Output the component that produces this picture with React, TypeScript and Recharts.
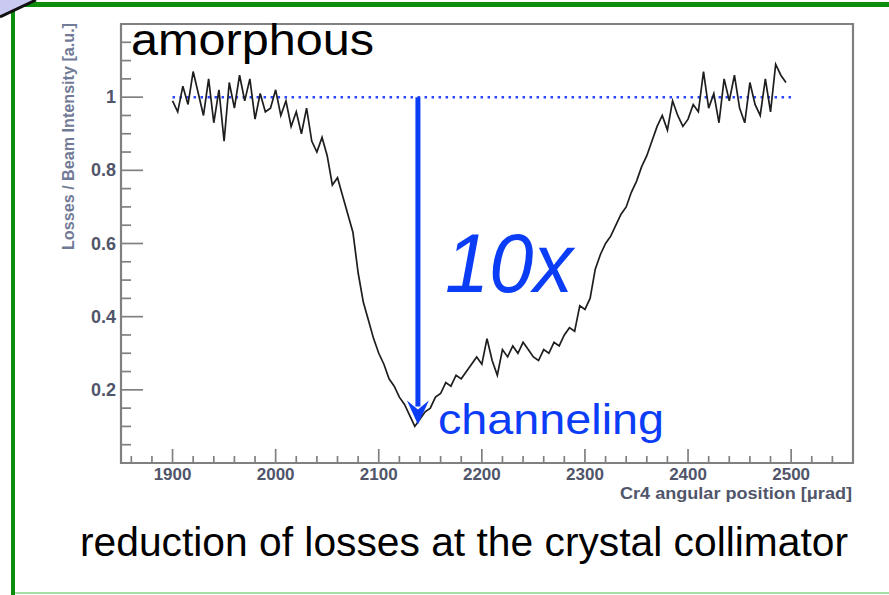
import { LineChart, Line, XAxis, YAxis, ReferenceLine, ReferenceArea } from 'recharts';

// Crystal scan: losses normalised to beam intensity vs. Cr4 angular position
const ANGLE_START = 1900; // µrad
const ANGLE_STEP = 5; // µrad between samples

const lossValues = [
    0.99, 0.96, 1.03, 0.98, 1.07, 1.01, 0.95, 1.05, 0.93, 1.02,
    0.88, 1.04, 0.97, 1.06, 0.99, 1.05, 0.94, 1.01, 0.96, 0.97,
    1.02, 0.95, 0.99, 0.92, 0.96, 0.9, 0.97, 0.88, 0.85, 0.89,
    0.84, 0.76, 0.78, 0.73, 0.68, 0.63, 0.52, 0.44, 0.39, 0.34,
    0.3, 0.27, 0.23, 0.21, 0.18, 0.16, 0.13, 0.1, 0.12, 0.14,
    0.15, 0.18, 0.19, 0.22, 0.21, 0.24, 0.23, 0.25, 0.27, 0.29,
    0.27, 0.34, 0.28, 0.24, 0.31, 0.29, 0.32, 0.3, 0.33, 0.31,
    0.29, 0.28, 0.31, 0.3, 0.33, 0.32, 0.35, 0.37, 0.36, 0.43,
    0.42, 0.45, 0.53, 0.57, 0.6, 0.62, 0.65, 0.68, 0.7, 0.74,
    0.77, 0.81, 0.84, 0.88, 0.92, 0.95, 0.91, 0.99, 0.95, 0.92,
    0.94, 0.98, 0.96, 1.07, 0.97, 1.01, 0.93, 1.05, 0.99, 1.06,
    0.97, 0.93, 1.04, 0.98, 0.95, 1.05, 0.96, 1.09, 1.06, 1.04,
];

const xLabelTicks = [1900, 2000, 2100, 2200, 2300, 2400, 2500];
const yLabelTicks = [0.2, 0.4, 0.6, 0.8, 1];

const amorphousLevel = 1;
const amorphousRange = [1900, 2500];
const channelingAngle = 2138;
const channelingMinimum = 0.105;

const X_DOMAIN = [1850, 2560];
const Y_DOMAIN = [0, 1.2];

const data = lossValues.map((loss, i) => ({ angle: ANGLE_START + i * ANGLE_STEP, loss }));

// minor ticks every 20 µrad / 0.05
const xTicks: number[] = [];
for (let v = 1860; v <= 2540; v += 20) xTicks.push(v);
const yTicks: number[] = [];
for (let i = 1; i <= 23; i++) yTicks.push(Math.round(i * 5) / 100);

const FONT = '"Liberation Sans", Arial, Helvetica, sans-serif';
const BLUE = '#0b3cf6';
const AXIS = '#808080';
const TICK_TEXT = '#50556a';

function XTick({ x, y, payload }: any) {
    const major = xLabelTicks.includes(payload.value);
    return (
        <g>
            <line x1={x} y1={y} x2={x} y2={y - (major ? 14 : 7)} stroke={AXIS} strokeWidth={1.7} />
            {major && (
                <text x={x} y={y + 17} textAnchor="middle" fontSize={17} fontWeight="bold" fill={TICK_TEXT} fontFamily={FONT}>
                    {payload.value}
                </text>
            )}
        </g>
    );
}

function YTick({ x, y, payload }: any) {
    const major = yLabelTicks.includes(payload.value);
    return (
        <g>
            <line x1={x} y1={y} x2={x + (major ? 22 : 10)} y2={y} stroke={AXIS} strokeWidth={1.7} />
            {major && (
                <text x={x - 5} y={y + 6} textAnchor="end" fontSize={18} fontWeight="bold" fill={TICK_TEXT} fontFamily={FONT}>
                    {payload.value}
                </text>
            )}
        </g>
    );
}

// vertical arrow from the amorphous level down to the channeling minimum
function DownArrow({ x1, y1, x2, y2 }: any) {
    const head = 24;
    return (
        <g>
            <line x1={x1} y1={y1} x2={x2} y2={y2 - head + 6} stroke={BLUE} strokeWidth={5} />
            <polygon
                points={`${x2},${y2} ${x2 - 11},${y2 - head} ${x2},${y2 - head + 9} ${x2 + 11},${y2 - head}`}
                fill={BLUE}
            />
        </g>
    );
}

export default function App() {
    return (
        <div style={{ position: 'absolute', left: 0, top: 0, width: 889, height: 595, background: '#fff', overflow: 'hidden' }}>
            <LineChart width={889} height={595} data={data} margin={{ top: 24, right: 36, bottom: 92, left: 61 }}>
                <XAxis
                    type="number"
                    dataKey="angle"
                    domain={X_DOMAIN}
                    allowDataOverflow
                    ticks={xTicks}
                    interval={0}
                    tickSize={0}
                    tickMargin={0}
                    tickLine={false}
                    axisLine={false}
                    height={40}
                    tick={<XTick />}
                />
                <YAxis
                    type="number"
                    domain={Y_DOMAIN}
                    allowDataOverflow
                    ticks={yTicks}
                    interval={0}
                    tickSize={0}
                    tickMargin={0}
                    tickLine={false}
                    axisLine={false}
                    width={60}
                    tick={<YTick />}
                />
                <ReferenceArea
                    x1={X_DOMAIN[0]}
                    x2={X_DOMAIN[1]}
                    y1={Y_DOMAIN[0]}
                    y2={Y_DOMAIN[1]}
                    fill="none"
                    fillOpacity={0}
                    stroke={AXIS}
                    strokeWidth={2.2}
                />
                <ReferenceLine
                    segment={[
                        { x: amorphousRange[0], y: amorphousLevel },
                        { x: amorphousRange[1], y: amorphousLevel },
                    ]}
                    stroke="#2e44ff"
                    strokeWidth={2.5}
                    strokeDasharray="2.5 4.5"
                />
                <Line
                    type="linear"
                    dataKey="loss"
                    stroke="#1e1e1e"
                    strokeWidth={1.7}
                    dot={false}
                    isAnimationActive={false}
                />
                <ReferenceLine
                    segment={[
                        { x: channelingAngle, y: amorphousLevel },
                        { x: channelingAngle, y: channelingMinimum },
                    ]}
                    shape={<DownArrow />}
                />
            </LineChart>

            <svg
                width={889}
                height={595}
                style={{ position: 'absolute', left: 0, top: 0, pointerEvents: 'none' }}
                fontFamily={FONT}
            >
                {/* slide frame */}
                <rect x={0} y={2} width={889} height={5} fill="#0c8d0c" />
                <rect x={11} y={0} width={4} height={595} fill="#0c8d0c" />
                <rect x={15} y={592} width={874} height={2} fill="#a6dca6" />
                <polygon points="0,0 36,0 0,17" fill="#c9c9f2" />
                <line x1={0} y1={17} x2={36} y2={0} stroke="#111" strokeWidth={3} />

                {/* axis titles */}
                <text
                    x={74}
                    y={23}
                    transform="rotate(-90, 74, 23)"
                    textAnchor="end"
                    fontSize={16}
                    fontWeight="bold"
                    fill="#717a96"
                    textLength={227}
                    lengthAdjust="spacingAndGlyphs"
                >
                    Losses / Beam Intensity [a.u.]
                </text>
                <text
                    x={620}
                    y={499}
                    fontSize={16}
                    fontWeight="bold"
                    fill={TICK_TEXT}
                    textLength={232}
                    lengthAdjust="spacingAndGlyphs"
                >
                    Cr4 angular position [μrad]
                </text>

                {/* annotations */}
                <text x={131} y={55} fontSize={45} fill="#000" textLength={243} lengthAdjust="spacingAndGlyphs">
                    amorphous
                </text>
                <text
                    x={445}
                    y={292}
                    fontSize={84}
                    fontStyle="italic"
                    fill={BLUE}
                    textLength={128}
                    lengthAdjust="spacingAndGlyphs"
                >
                    10x
                </text>
                <text x={438} y={434} fontSize={42} fill={BLUE} textLength={226} lengthAdjust="spacingAndGlyphs">
                    channeling
                </text>
                <text x={80} y={556} fontSize={40} fill="#000" textLength={768} lengthAdjust="spacingAndGlyphs">
                    reduction of losses at the crystal collimator
                </text>
            </svg>
        </div>
    );
}
